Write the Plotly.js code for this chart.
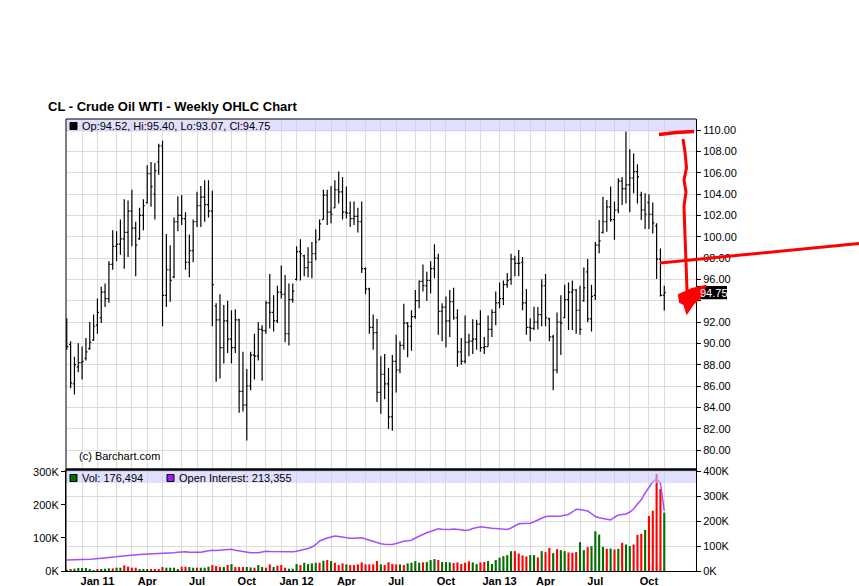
<!DOCTYPE html>
<html><head><meta charset="utf-8">
<script src="https://cdn.plot.ly/plotly-3.0.1.min.js"></script>
<style>html,body{margin:0;padding:0;background:#fff}#chart{width:859px;height:586px}</style>
</head><body><div id="chart"></div>
<script>
// ---- data (weekly bars, Monday dated, first week 2010-11-08) ----
const firstWeek = [2010, 10, 8];
const opens = [
 91.5, 89.9, 86.2, 87.8, 88.2, 88.6, 89.5, 90.3, 91.7, 92.4,
 94.8, 94.2, 97.4, 99.1, 99.3, 99.8, 100.4, 102.4, 100.8, 99.8,
 102.0, 103.2, 105.9, 104.0, 107.0, 108.5, 94.5, 96.9, 96.2, 101.4,
 102.0, 101.7, 97.6, 98.7, 101.4, 102.9, 103.7, 103.0, 102.4, 93.5,
 92.2, 89.6, 92.1, 90.4, 89.6, 92.2, 85.5, 84.2, 86.0, 88.9,
 88.8, 91.3, 91.2, 93.8, 92.9, 92.1, 94.8, 94.6, 90.9, 94.1,
 96.0, 98.6, 98.2, 97.1, 97.6, 98.4, 99.7, 101.6, 103.9, 102.3,
 102.7, 104.4, 104.2, 102.3, 102.2, 101.7, 101.9, 101.4, 97.0, 95.1,
 91.5, 91.0, 85.4, 87.1, 86.2, 83.1, 88.3, 87.5, 89.8, 91.9,
 91.6, 92.5, 94.0, 95.8, 95.4, 95.9, 97.0, 98.0, 93.0, 93.4,
 92.1, 93.9, 92.4, 89.2, 88.3, 90.1, 90.2, 90.4, 91.8, 89.6,
 89.7, 91.3, 92.9, 93.8, 94.2, 95.5, 96.0, 97.9, 97.5, 97.6,
 93.8, 91.5, 91.4, 92.0, 92.7, 95.4, 92.3, 90.6, 87.5, 92.0,
 92.4, 94.1, 94.8, 95.0, 93.1, 94.0, 96.7, 92.3, 94.5, 99.2,
 100.4, 101.4, 102.8, 101.6, 102.5, 105.2, 104.5, 104.85, 105.5, 106.1,
 103.9, 102.5, 103.2, 102.1, 101.0, 97.9, 94.52];
const highs = [
 92.34, 90.2, 88.75, 90.0, 89.7, 90.5, 92.0, 92.7, 94.2, 95.3,
 95.6, 97.7, 100.6, 100.5, 101.6, 103.5, 103.4, 104.4, 101.4, 102.7,
 103.5, 106.7, 107.0, 106.9, 108.7, 109.0, 100.25, 99.2, 101.8, 103.8,
 103.9, 102.3, 100.2, 101.6, 104.2, 104.75, 105.3, 105.3, 104.3, 93.75,
 94.6, 93.6, 94.0, 93.1, 93.2, 92.3, 89.2, 87.6, 89.2, 90.9,
 92.0, 91.7, 94.0, 96.5, 94.5, 95.4, 97.3, 96.4, 95.6, 95.6,
 99.1, 99.75, 98.3, 99.0, 99.5, 100.7, 101.6, 104.4, 104.4, 104.75,
 105.3, 106.1, 105.6, 104.7, 103.3, 103.3, 102.7, 103.3, 97.1, 95.2,
 92.7, 92.3, 88.8, 89.0, 87.7, 88.9, 90.8, 90.2, 93.7, 92.0,
 93.1, 95.0, 95.9, 97.4, 96.7, 97.7, 99.3, 98.4, 93.75, 94.4,
 95.0, 95.2, 93.2, 90.5, 92.6, 90.9, 92.25, 92.2, 93.1, 90.6,
 92.6, 93.2, 94.85, 95.7, 95.9, 96.6, 98.4, 98.2, 98.75, 98.1,
 95.1, 92.35, 93.44, 93.4, 96.0, 96.5, 92.4, 90.8, 92.9, 94.5,
 95.5, 95.7, 95.9, 95.1, 95.4, 97.1, 97.9, 95.5, 99.5, 101.56,
 103.75, 103.44, 104.7, 103.3, 105.47, 105.6, 109.85, 108.2, 107.8, 106.8,
 104.2, 104.06, 103.97, 103.2, 101.25, 98.9, 95.40];
const lows = [
 89.4, 85.8, 85.2, 87.3, 86.6, 88.4, 89.4, 90.25, 90.9, 91.9,
 93.4, 93.8, 96.9, 97.7, 98.3, 97.0, 98.1, 99.1, 96.3, 99.7,
 100.6, 103.1, 102.8, 101.6, 105.8, 91.6, 93.4, 93.9, 96.1, 100.5,
 101.1, 96.9, 96.2, 97.6, 100.9, 100.9, 101.4, 101.8, 91.6, 86.4,
 86.7, 88.1, 89.1, 88.1, 89.1, 83.5, 83.6, 80.9, 85.6, 86.6,
 88.4, 86.5, 90.9, 91.4, 91.1, 91.9, 94.2, 90.1, 89.8, 93.8,
 95.9, 95.9, 96.3, 96.2, 96.1, 97.8, 99.7, 101.6, 101.1, 101.25,
 102.7, 103.1, 101.6, 101.7, 100.9, 101.1, 100.4, 96.6, 94.6, 90.9,
 89.4, 84.5, 83.4, 84.75, 82.0, 81.8, 85.4, 87.2, 89.4, 88.7,
 89.3, 92.3, 93.3, 94.85, 94.0, 94.7, 96.1, 90.8, 90.2, 89.6,
 90.6, 92.2, 87.8, 88.0, 88.1, 88.8, 89.0, 89.4, 89.2, 89.0,
 89.7, 90.6, 91.7, 93.3, 93.6, 95.2, 95.5, 96.3, 96.3, 93.1,
 90.8, 90.2, 91.25, 91.3, 91.6, 91.6, 90.2, 85.6, 87.2, 88.9,
 92.35, 91.25, 91.25, 90.9, 90.8, 93.9, 91.97, 91.1, 94.06, 98.44,
 100.3, 100.47, 101.4, 99.7, 102.2, 102.97, 103.1, 102.3, 104.06, 103.1,
 101.56, 100.72, 100.72, 100.3, 96.03, 94.4, 93.07];
const closes = [
 89.7, 86.3, 88.0, 88.2, 88.3, 89.2, 90.1, 91.6, 92.9, 94.8,
 94.2, 97.4, 99.1, 99.3, 99.8, 100.4, 102.4, 100.8, 99.2, 102.0,
 102.9, 105.9, 104.7, 106.2, 108.5, 94.5, 96.9, 95.9, 101.4, 102.0,
 101.7, 97.6, 98.7, 101.4, 102.9, 103.7, 103.0, 102.4, 95.5, 92.2,
 89.6, 92.1, 90.4, 89.6, 92.2, 85.5, 84.2, 86.0, 88.9, 88.8,
 91.3, 91.2, 93.8, 92.9, 92.1, 94.8, 94.6, 90.9, 94.1, 94.9,
 98.6, 98.4, 97.1, 97.6, 98.4, 99.5, 101.2, 103.9, 102.3, 102.1,
 104.4, 104.2, 102.3, 102.2, 101.7, 101.9, 101.4, 97.0, 95.1, 91.5,
 91.0, 85.4, 87.1, 86.2, 83.1, 88.3, 87.5, 89.8, 91.9, 91.6,
 92.5, 94.0, 95.8, 95.4, 95.9, 97.0, 98.0, 93.0, 93.4, 92.1,
 93.9, 92.4, 89.2, 88.3, 90.1, 90.2, 90.4, 91.8, 89.6, 89.7,
 91.3, 92.9, 93.8, 94.2, 95.5, 95.9, 97.9, 97.5, 97.5, 93.8,
 91.5, 91.4, 92.0, 92.7, 95.4, 92.4, 90.6, 87.5, 92.0, 91.9,
 94.1, 94.8, 95.0, 93.1, 91.3, 95.2, 92.3, 94.4, 99.2, 99.6,
 101.4, 102.8, 101.6, 102.5, 105.2, 104.5, 104.85, 105.5, 106.1, 105.6,
 102.5, 102.1, 102.1, 101.3, 97.9, 94.5, 94.75];
// volume in thousands of contracts
const volumeK = [
 4, 6, 7, 9, 9, 9, 6, 3, 6, 6,
 7, 8, 8, 10, 10, 17, 13, 10, 10, 6,
 6, 6, 6, 6, 6, 12, 10, 10, 10, 6,
 13, 13, 12, 10, 10, 10, 10, 13, 18, 15,
 12, 12, 18, 21, 12, 12, 12, 12, 11, 10,
 18, 12, 10, 20, 12, 16, 18, 10, 7, 7,
 21, 18, 25, 21, 23, 25, 25, 31, 33, 30,
 25, 18, 23, 20, 18, 18, 20, 26, 20, 20,
 20, 30, 20, 18, 26, 21, 20, 20, 18, 23,
 25, 30, 25, 26, 27, 33, 36, 33, 27, 27,
 26, 24, 26, 21, 25, 29, 26, 21, 26, 27,
 30, 21, 33, 40, 45, 48, 60, 60, 53, 47,
 44, 48, 48, 41, 60, 57, 70, 54, 66, 63,
 60, 56, 55, 57, 87, 63, 72, 75, 120, 110,
 73, 67, 68, 65, 67, 85, 80, 75, 80, 109,
 112, 124, 166, 182, 293, 248, 176.494];
// volume bar colour as read: G = up week, R = down week
const volumeDir = ("GRGGGGGGRG" + "GGRGGRRRRG" + "GGRRRRGGGG" + "RRGGRGGGRR" +
  "RGRGRRRGGR" + "GGRRGRRRGG" + "GRGGGGRGRG" + "RRRGRRRRRR" +
  "RRGRRRRGRG" + "GGGRGGGRGG" + "GRRRRRGGRR" + "GGGGGGGRRR" +
  "RGGRGRRGRG" + "GRRRGGRGGG" + "GRGRGRGGRR" + "RGRRRRG").split('');
// open interest in thousands of contracts
const openInterestK = [
 43.6, 43.8, 44.5, 45.0, 45.3, 46.0, 47.5, 48.5, 49.5, 51.0,
 52.5, 54.0, 55.5, 57.0, 59.0, 61.0, 62.0, 63.5, 65.0, 66.0,
 67.0, 67.5, 68.0, 68.5, 69.0, 69.5, 70.0, 71.0, 73.0, 75.5,
 76.6, 77.0, 75.5, 74.5, 74.0, 75.5, 78.0, 81.0, 83.0, 82.5,
 84.0, 86.0, 87.5, 87.0, 83.0, 80.0, 77.0, 75.0, 73.5, 73.0,
 72.6, 76.0, 79.0, 78.0, 77.5, 77.0, 76.5, 76.0, 76.5, 76.6,
 79.0, 82.0, 86.0, 90.0, 96.0, 105.0, 120.0, 127.0, 132.0, 136.0,
 140.0, 138.0, 135.0, 132.0, 131.0, 131.5, 133.0, 133.0, 128.0, 123.0,
 118.0, 113.0, 109.0, 107.0, 106.0, 106.0, 110.0, 115.0, 119.0, 121.0,
 123.0, 132.0, 140.0, 145.0, 153.0, 158.0, 164.0, 169.0, 167.0, 165.0,
 166.0, 168.0, 168.0, 165.0, 162.0, 164.0, 170.0, 175.0, 177.0, 175.0,
 172.0, 171.0, 170.0, 169.0, 167.0, 166.0, 172.0, 182.0, 189.0, 190.0,
 190.0, 191.0, 197.0, 205.0, 212.0, 218.0, 219.0, 218.0, 219.0, 220.0,
 223.0, 226.0, 236.0, 247.0, 246.0, 244.0, 240.0, 230.0, 218.0, 213.0,
 210.0, 206.0, 204.0, 215.0, 224.0, 226.0, 228.0, 236.0, 248.0, 268.0,
 285.0, 312.0, 335.0, 357.0, 367.0, 352.0, 240.0];
const priceTicks = [80, 82, 84, 86, 88, 90, 92, 94, 96, 98, 100, 102, 104, 106, 108, 110];
const volumeTicksK = [0, 100, 200, 300];
const oiTicksK = [0, 100, 200, 300, 400];
const monthNames = ['Jan','Feb','Mar','Apr','May','Jun','Jul','Aug','Sep','Oct','Nov','Dec'];
const labelledMonths = [0, 3, 6, 9];
const legendOpenInterest = '213,355';

// ---- derived ----
const DAY = 86400000;
const t0 = Date.UTC(firstWeek[0], firstWeek[1], firstWeek[2]);
const dates = opens.map((_, i) => new Date(t0 + i * 7 * DAY).toISOString().slice(0, 10));
const tickVals = [], tickText = [];
for (let i = 1; i < dates.length; i++) {
  const m = +dates[i].slice(5, 7) - 1, pm = +dates[i - 1].slice(5, 7) - 1;
  if (m !== pm) {
    tickVals.push(dates[i]);
    let t = '';
    if (labelledMonths.includes(m)) t = m === 0 ? 'Jan ' + dates[i].slice(2, 4) : monthNames[m];
    tickText.push(t);
  }
}
const last = opens.length - 1;
const lastClose = closes[last];
const fmt = n => n.toLocaleString('en-US');
// the last-price box hides the tick label it sits on
const priceTickText = priceTicks.map(v => Math.abs(v - lastClose) < 1 ? '' : v.toFixed(2));

// pixel -> paper helpers (plot area 66..696 x 119..571)
const PL = 66, PR = 696, PT = 119, PB = 571;
const px = x => (x - PL) / (PR - PL);
const py = y => (PB - y) / (PB - PT);
const path = (pts, close) => pts.map((p, i) => (i ? 'L' : 'M') + px(p[0]).toFixed(5) + ',' + py(p[1]).toFixed(5)).join(' ') + (close ? ' Z' : '');
const split = py(469.5);
const GRID = '#dcdcdc';
const FONT = 'Liberation Sans, Arial, sans-serif';

const traces = [
  {type: 'ohlc', x: dates, open: opens, high: highs, low: lows, close: closes,
   xaxis: 'x2', yaxis: 'y', tickwidth: 0.4, hoverinfo: 'skip',
   increasing: {line: {color: '#000', width: 1.2}},
   decreasing: {line: {color: '#000', width: 1.2}}},
  {type: 'bar', x: dates, y: volumeK.map(v => v * 1000), xaxis: 'x', yaxis: 'y3',
   marker: {color: volumeDir.map(d => d === 'G' ? '#006e00' : '#ff0000'), line: {width: 0}}, hoverinfo: 'skip'},
  {type: 'scatter', mode: 'lines', x: dates, y: openInterestK.map(v => v * 1000), xaxis: 'x', yaxis: 'y4',
   line: {color: '#a64dff', width: 1.5}, hoverinfo: 'skip'}
];

const xRange = ['2010-11-06 14:00', '2014-01-01'];
const RED = '#ff0000';
const shapes = [
  // legend bands
  {type: 'rect', xref: 'paper', yref: 'paper', x0: 0, x1: 1, y0: py(131.5), y1: 1, fillcolor: 'rgba(200,200,255,0.55)', line: {width: 0}, layer: 'above'},
  {type: 'rect', xref: 'paper', yref: 'paper', x0: 0, x1: 1, y0: py(483), y1: split, fillcolor: 'rgba(200,200,255,0.55)', line: {width: 0}, layer: 'above'},
  // frame
  {type: 'line', xref: 'paper', yref: 'paper', x0: 0, x1: 1, y0: 1, y1: 1, line: {color: '#000', width: 1}, layer: 'above'},
  {type: 'line', xref: 'paper', yref: 'paper', x0: 0, x1: 0, y0: 0, y1: 1, line: {color: '#000', width: 1}, layer: 'above'},
  {type: 'line', xref: 'paper', yref: 'paper', x0: 0, x1: 1, y0: split, y1: split, line: {color: '#000', width: 2.5}, layer: 'above'},
  // legend squares
  {type: 'rect', xref: 'paper', yref: 'paper', x0: px(70), x1: px(77), y0: py(129.5), y1: py(122.5), fillcolor: '#000', line: {color: '#000', width: 1}, layer: 'above'},
  {type: 'rect', xref: 'paper', yref: 'paper', x0: px(70), x1: px(77), y0: py(481.5), y1: py(474.5), fillcolor: '#006e00', line: {color: '#000', width: 1}, layer: 'above'},
  {type: 'rect', xref: 'paper', yref: 'paper', x0: px(167), x1: px(174), y0: py(481.5), y1: py(474.5), fillcolor: '#9d1fff', line: {color: '#000', width: 1}, layer: 'above'},
  // last price box
  {type: 'rect', xref: 'paper', yref: 'y', x0: px(697), x1: px(727), y0: lastClose - 0.62, y1: lastClose + 0.62, fillcolor: '#000', line: {width: 0}, layer: 'above'},
  // red hand-drawn marks
  {type: 'path', xref: 'paper', yref: 'paper', path: path([[659, 134.5], [676, 132.5], [694, 131.5]]), line: {color: RED, width: 3.5}, layer: 'above'},
  {type: 'path', xref: 'paper', yref: 'paper', path: path([[683, 139], [685, 152], [686.5, 168], [684, 180], [686, 192], [684, 206], [685, 236], [686, 262], [687, 290], [687, 311]]), line: {color: RED, width: 3}, layer: 'above'},
  {type: 'path', xref: 'paper', yref: 'paper', path: path([[660, 263], [859, 243.5]]), line: {color: RED, width: 3}, layer: 'above'},
  {type: 'path', xref: 'paper', yref: 'paper', path: path([[679, 295], [692, 289], [705, 286], [702, 296], [693, 304], [687, 313], [684, 304], [680, 302]], true), fillcolor: RED, line: {color: RED, width: 2}, layer: 'above'}
];

const ann = (x, y, text, extra) => Object.assign({xref: 'paper', yref: 'paper', x: px(x), y: py(y), text: text, showarrow: false, xanchor: 'left', yanchor: 'middle', font: {family: FONT, size: 11, color: '#000'}}, extra || {});
const annotations = [
  ann(46, 107, 'CL - Crude Oil WTI - Weekly OHLC Chart', {font: {family: FONT, size: 13, color: '#000', weight: 'bold'}}),
  ann(80, 126, 'Op:' + opens[last].toFixed(2) + ', Hi:' + highs[last].toFixed(2) + ', Lo:' + lows[last].toFixed(2) + ', Cl:' + lastClose.toFixed(2)),
  ann(77, 456, '(c) Barchart.com'),
  ann(80, 478, 'Vol: ' + fmt(Math.round(volumeK[last] * 1000))),
  ann(177, 478, 'Open Interest: ' + legendOpenInterest),
  {xref: 'paper', yref: 'y', x: px(698), y: lastClose, text: lastClose.toFixed(2), showarrow: false, xanchor: 'left', yanchor: 'middle', font: {family: FONT, size: 11, color: '#fff'}}
];

const layout = {
  width: 859, height: 586,
  margin: {l: PL, r: 859 - PR, t: PT, b: 586 - PB, pad: 0},
  paper_bgcolor: '#fff', plot_bgcolor: '#fff',
  showlegend: false, hovermode: false, bargap: 0.45,
  font: {family: FONT, size: 11, color: '#000'},
  xaxis: {type: 'date', domain: [0, 1], anchor: 'y3', range: xRange, rangeslider: {visible: false},
    tickmode: 'array', tickvals: tickVals, ticktext: tickText, ticks: '', showgrid: true, gridcolor: GRID, gridwidth: 1,
    showline: true, linecolor: '#000', linewidth: 1, zeroline: false,
    tickfont: {family: FONT, size: 11, color: '#000', weight: 'bold'}},
  xaxis2: {type: 'date', domain: [0, 1], anchor: 'y', matches: 'x', range: xRange, rangeslider: {visible: false},
    tickmode: 'array', tickvals: tickVals, showticklabels: false, ticks: '', showgrid: true, gridcolor: GRID, zeroline: false, showline: false},
  yaxis: {domain: [split, 1], anchor: 'x2', side: 'right', range: [78.172, 111.031],
    tickmode: 'array', tickvals: priceTicks, ticktext: priceTickText,
    ticks: 'outside', ticklen: 4, tickcolor: '#000', showline: true, linecolor: '#000', linewidth: 1,
    showgrid: true, gridcolor: GRID, zeroline: false, tickfont: {family: FONT, size: 11, color: '#000'}},
  yaxis3: {domain: [0, split], anchor: 'x', side: 'left', range: [0, 306600],
    tickmode: 'array', tickvals: volumeTicksK.map(v => v * 1000), ticktext: volumeTicksK.map(v => v + 'K'),
    ticks: 'outside', ticklen: 4, tickcolor: '#000', showline: true, linecolor: '#000', linewidth: 1,
    showgrid: false, zeroline: false, tickfont: {family: FONT, size: 11, color: '#000'}},
  yaxis4: {overlaying: 'y3', anchor: 'x', side: 'right', range: [0, 406000],
    tickmode: 'array', tickvals: oiTicksK.map(v => v * 1000), ticktext: oiTicksK.map(v => v + 'K'),
    ticks: 'outside', ticklen: 4, tickcolor: '#000', showline: true, linecolor: '#000', linewidth: 1,
    showgrid: true, gridcolor: GRID, zeroline: false, tickfont: {family: FONT, size: 11, color: '#000'}},
  shapes: shapes,
  annotations: annotations
};

Plotly.newPlot('chart', traces, layout, {displayModeBar: false, staticPlot: true});
</script>
</body></html>
